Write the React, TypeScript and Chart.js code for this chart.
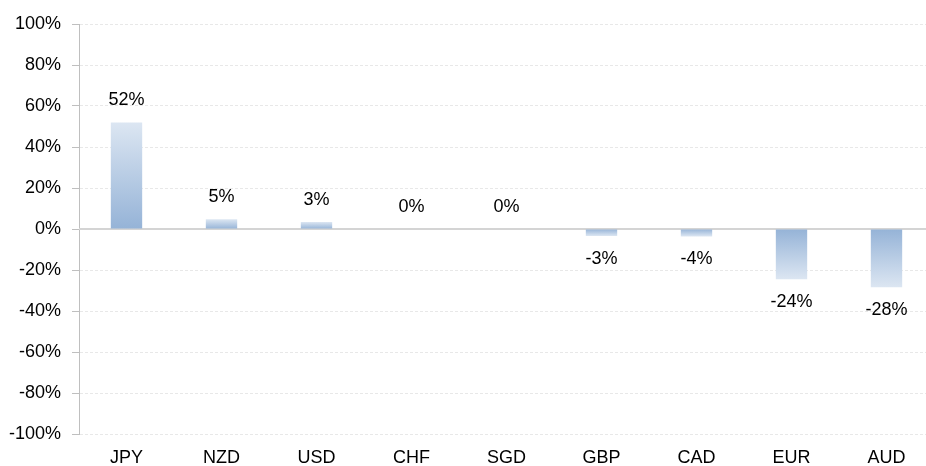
import React, { useEffect, useRef } from "react";
import { Chart, registerables } from "chart.js";

Chart.register(...registerables);

const categories = ["JPY", "NZD", "USD", "CHF", "SGD", "GBP", "CAD", "EUR", "AUD"];
const changes = [52.0, 4.7, 3.4, 0, 0, -3.4, -3.6, -24.5, -28.4];
const yTicks = [100, 80, 60, 40, 20, 0, -20, -40, -60, -80, -100];

const FONT = "'Liberation Sans', Arial, sans-serif";

export default function App() {
  const ref = useRef<HTMLCanvasElement | null>(null);

  useEffect(() => {
    document.body.style.margin = "0";
    const canvas = ref.current!;
    const barGradient = (context: any) => {
      const chart = context.chart;
      const { ctx, chartArea, scales } = chart;
      if (!chartArea) return "#95b3d7";
      const v = context.raw as number;
      const y0 = scales.y.getPixelForValue(0);
      const y1 = scales.y.getPixelForValue(v);
      if (Math.abs(y1 - y0) < 0.5) return "#95b3d7";
      const g = ctx.createLinearGradient(0, y0, 0, y1);
      g.addColorStop(0, "#95b3d7");
      g.addColorStop(1, "#dce6f2");
      return g;
    };

    const zeroLine = {
      id: "zeroLine",
      beforeDatasetsDraw(chart: any) {
        const { ctx, chartArea, scales } = chart;
        const y = Math.round(scales.y.getPixelForValue(0));
        ctx.save();
        ctx.strokeStyle = "#d4d4d4";
        ctx.lineWidth = 2;
        ctx.beginPath();
        ctx.moveTo(chartArea.left, y);
        ctx.lineTo(chartArea.right, y);
        ctx.stroke();
        ctx.restore();
      },
    };

    const valueLabels = {
      id: "valueLabels",
      afterDatasetsDraw(chart: any) {
        const { ctx } = chart;
        const meta = chart.getDatasetMeta(0);
        ctx.save();
        ctx.font = `18px ${FONT}`;
        ctx.fillStyle = "#000";
        ctx.textAlign = "center";
        ctx.textBaseline = "middle";
        meta.data.forEach((bar: any, i: number) => {
          const v = changes[i];
          const text = `${Math.round(v)}%`;
          const y = v >= 0 ? bar.y - 22 : bar.y + 23;
          ctx.fillText(text === "-0%" ? "0%" : text, bar.x, y);
        });
        ctx.restore();
      },
    };

    const chart = new Chart(canvas, {
      type: "bar",
      data: {
        labels: categories,
        datasets: [
          {
            data: changes,
            backgroundColor: barGradient,
            borderWidth: 0,
            barPercentage: 0.33,
            categoryPercentage: 1,
          },
        ],
      },
      options: {
        animation: false,
        responsive: false,
        maintainAspectRatio: false,
        layout: { padding: { top: 24, left: 0, right: 0, bottom: 0 } },
        plugins: { legend: { display: false }, tooltip: { enabled: false } },
        scales: {
          x: {
            grid: { display: false, drawTicks: false },
            border: { display: false },
            ticks: {
              color: "#000",
              font: { family: FONT, size: 18 },
              padding: 13,
              maxRotation: 0,
            },
            afterFit(scale: any) {
              scale.height = 32;
            },
          },
          y: {
            min: -100,
            max: 100,
            afterBuildTicks(scale: any) {
              scale.ticks = yTicks.map((v) => ({ value: v }));
            },
            grid: {
              color: (c: any) => (c.tick && c.tick.value === 0 ? "rgba(0,0,0,0)" : "#e8e8e8"),
              lineWidth: 1,
              tickLength: 7,
              tickColor: "#bfbfbf",
              tickBorderDash: [],
            },
            border: { display: true, color: "#bfbfbf", width: 1, dash: [3, 2] },
            ticks: {
              color: "#000",
              font: { family: FONT, size: 18 },
              padding: 11,
              callback: (v: any) => `${v}%`,
            },
            afterFit(scale: any) {
              scale.width = 79;
            },
          },
        },
      },
      plugins: [zeroLine, valueLabels],
    });
    return () => chart.destroy();
  }, []);

  return (
    <div style={{ width: 926, height: 466, overflow: "hidden", background: "#fff" }}>
      <canvas ref={ref} width={934} height={466} style={{ display: "block" }} />
    </div>
  );
}
